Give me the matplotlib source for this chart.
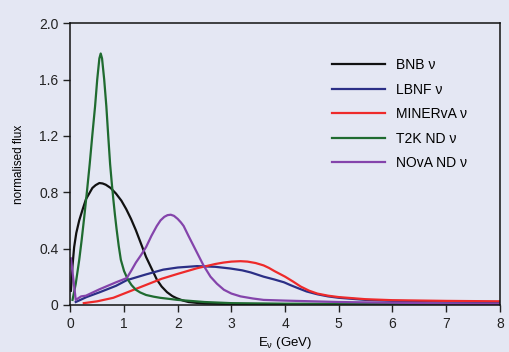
import numpy as np
import matplotlib
matplotlib.use('Agg')
from matplotlib import pyplot as plt
from matplotlib import font_manager

names = {f.name for f in font_manager.fontManager.ttflist}
font = 'Liberation Sans Narrow' if 'Liberation Sans Narrow' in names else 'Liberation Sans'
plt.rcParams['font.family'] = [font, 'DejaVu Sans']
plt.rcParams['mathtext.fontset'] = 'custom'
plt.rcParams['mathtext.rm'] = font
plt.rcParams['mathtext.it'] = font

bg = '#e4e7f3'

# values
bnb_e = [0.01, 0.04, 0.07, 0.11, 0.165, 0.23, 0.29, 0.35, 0.41, 0.47, 0.54, 0.60, 0.66, 0.75, 0.85, 0.95,
         1.04, 1.13, 1.22, 1.31, 1.41, 1.51, 1.61, 1.70, 1.80, 1.90, 1.98, 2.1, 2.2, 2.35, 2.5, 3.0, 4.0]
bnb_f = [0.10, 0.28, 0.41, 0.51, 0.60, 0.68, 0.75, 0.79, 0.83, 0.85, 0.865, 0.862, 0.853, 0.83, 0.79, 0.74,
         0.68, 0.61, 0.53, 0.44, 0.34, 0.26, 0.18, 0.13, 0.09, 0.062, 0.047, 0.03, 0.02, 0.014, 0.01, 0.005, 0.003]

lbnf_e = [0.1, 0.3, 0.55, 0.85, 1.05, 1.4, 1.73, 2.0, 2.36, 2.7, 2.98, 3.2, 3.36, 3.6, 3.8, 3.98, 4.1, 4.23,
          4.4, 4.6, 4.8, 5.0, 5.5, 6.0, 7.0, 8.0]
lbnf_f = [0.02, 0.055, 0.09, 0.135, 0.175, 0.215, 0.25, 0.265, 0.275, 0.27, 0.258, 0.245, 0.23, 0.20, 0.18, 0.16,
          0.14, 0.12, 0.095, 0.075, 0.06, 0.05, 0.035, 0.028, 0.022, 0.02]

minerva_e = [0.25, 0.5, 0.8, 1.0, 1.2, 1.4, 1.7, 2.0, 2.36, 2.7, 2.85, 3.0, 3.17, 3.3, 3.45, 3.6, 3.7, 3.8,
             3.9, 4.0, 4.15, 4.29, 4.45, 4.6, 4.8, 5.0, 5.5, 6.0, 7.0, 8.0]
minerva_f = [0.012, 0.025, 0.05, 0.08, 0.11, 0.14, 0.185, 0.22, 0.26, 0.29, 0.30, 0.307, 0.31, 0.307, 0.297, 0.28, 0.262, 0.24,
             0.22, 0.20, 0.165, 0.13, 0.10, 0.08, 0.065, 0.055, 0.04, 0.033, 0.028, 0.025]

t2k_e = [0.04, 0.10, 0.165, 0.21, 0.26, 0.31, 0.36, 0.41, 0.46, 0.50, 0.54, 0.565, 0.59, 0.63, 0.67, 0.705,
         0.74, 0.77, 0.80, 0.83, 0.86, 0.90, 0.94, 1.0, 1.07, 1.14, 1.22, 1.3, 1.41, 1.55, 1.67, 2.0, 2.5, 3.0, 4.0, 8.0]
t2k_f = [0.035, 0.15, 0.32, 0.46, 0.63, 0.81, 1.0, 1.21, 1.41, 1.60, 1.75, 1.785, 1.75, 1.60, 1.41, 1.2,
         1.0, 0.87, 0.75, 0.64, 0.54, 0.42, 0.32, 0.24, 0.18, 0.14, 0.107, 0.088, 0.07, 0.058, 0.05, 0.035, 0.02, 0.012, 0.008, 0.005]

nova_e = [0.01, 0.05, 0.1, 0.2, 0.29, 0.54, 0.85, 1.05, 1.13, 1.22, 1.31, 1.41, 1.51, 1.61, 1.68, 1.75, 1.81,
          1.87, 1.93, 2.0, 2.06, 2.11, 2.2, 2.28, 2.36, 2.48, 2.61, 2.73, 2.86, 3.0, 3.17, 3.4, 3.6, 4.0, 5.0,
          6.0, 7.0, 8.0]
nova_f = [0.33, 0.2, 0.035, 0.06, 0.065, 0.11, 0.16, 0.19, 0.24, 0.30, 0.35, 0.41, 0.49, 0.56, 0.60, 0.625, 0.637,
          0.64, 0.632, 0.61, 0.585, 0.56, 0.49, 0.43, 0.37, 0.28, 0.20, 0.15, 0.107, 0.08, 0.06, 0.045, 0.035, 0.03, 0.02,
          0.015, 0.01, 0.008]

series = [
    (bnb_e, bnb_f, '#111111', 'BNB ν'),
    (lbnf_e, lbnf_f, '#2b2f86', 'LBNF ν'),
    (minerva_e, minerva_f, '#ee2a2a', 'MINERvA ν'),
    (t2k_e, t2k_f, '#1f6b30', 'T2K ND ν'),
    (nova_e, nova_f, '#8444ab', 'NOvA ND ν'),
]

fig = plt.figure(figsize=(5.1, 3.52), dpi=100, facecolor=bg)
ax = fig.add_axes([0.138, 0.134, 0.842, 0.8], facecolor=bg)

for e, f, c, lab in series:
    ax.plot(e, f, color=c, linewidth=1.6, label=lab, solid_joinstyle='round')

ax.set_xlim(0, 8)
ax.set_ylim(0, 2.0)
ax.set_xticks(range(0, 9))
ax.set_yticks([0, 0.4, 0.8, 1.2, 1.6, 2.0])
ax.set_yticklabels(['0', '0.4', '0.8', '1.2', '1.6', '2.0'])
ax.tick_params(direction='out', length=5, width=1, labelsize=10, colors='#222222')
for s in ax.spines.values():
    s.set_linewidth(1.1)
    s.set_color('#111111')

ax.set_ylabel('normalised flux', fontsize=8.5, labelpad=10)
ax.set_xlabel(r'E$_\nu$ (GeV)', fontsize=9.5, labelpad=3)

ax.legend(loc='upper left', bbox_to_anchor=(0.58, 0.92), frameon=False,
          fontsize=10, handlelength=3.8, labelspacing=0.75, handletextpad=0.8)

plt.savefig('out.png', dpi=100, facecolor=bg)
